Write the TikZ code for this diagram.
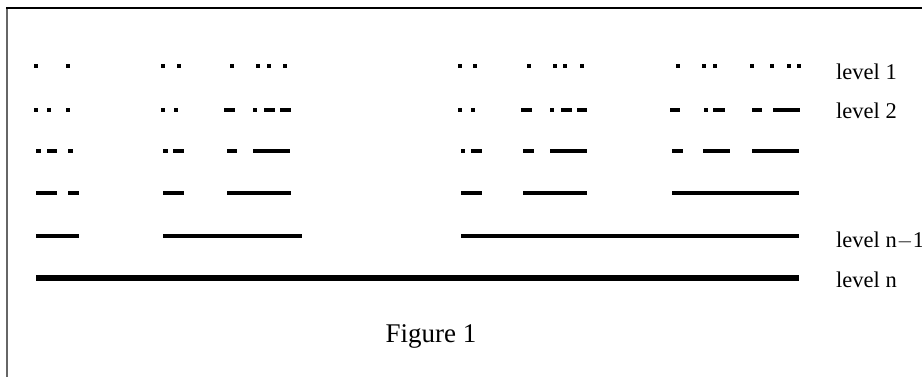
\documentclass[tikz,border=0pt]{standalone}
\usepackage{fontspec}
\setmainfont{Liberation Serif}
\tikzset{
  seg/.style={line width=4.4pt, line cap=butt},
  segthick/.style={line width=5.2pt, line cap=butt},
  lbl/.style={anchor=base west, inner sep=0pt, font=\fontsize{22.5}{27}\selectfont},
  frameline/.style={line width=1.4pt}
}
\begin{document}
\begin{tikzpicture}[x=1pt,y=-1pt]
\useasboundingbox (0,0) rectangle (922,376);
% frame (only top and left visible)
\draw[frameline, black!60] (7,380) -- (7,8);
\draw[frameline, black] (6.3,8) -- (925,8);
% row 1
\foreach \a/\b in {34/38,66/70,161/165,177/181,230/234,256/260,267/271,283/287,458/462,473/477,527/531,553/557,563/567,580/584,676/680,702/706,713/717,750/754,770/774,787/791,797/801}
  \draw[seg] (\a,66) -- (\b,66);
% row 2
\foreach \a/\b in {34/38,47/51,66/70,161/165,174/178,224/235,253/257,264/275,280/291,458/462,471/475,521/532,550/554,561/572,577/587,670/680,704/708,713/725,752/762,773/800}
  \draw[seg] (\a,110) -- (\b,110);
% row 3
\foreach \a/\b in {36/41,47/57,68/73,163/168,173/184,227/237,253/290,461/465,471/482,523/534,550/587,672/683,703/730,752/799}
  \draw[seg] (\a,151) -- (\b,151);
% row 4
\foreach \a/\b in {36/57,68/79,163/184,227/291,461/482,523/587,672/799}
  \draw[seg] (\a,193) -- (\b,193);
% row 5
\foreach \a/\b in {36/79,163/264,461/799}
  \draw[seg] (\a,236) -- (\b,236);
\draw[seg, line width=4.8pt] (264,236) -- (302,236);
% row 6
\draw[segthick] (36,278) -- (799,278);
% labels
\node[lbl] (l1) at (836,79) {level 1};
\node[lbl] (l2) at (836,118) {level 2};
\node[lbl] (ln1) at (836,247) {level n$-$1};
\node[lbl] (ln) at (836,287) {level n};
\node[anchor=base, inner sep=0pt, font=\fontsize{27}{32}\selectfont] (fig) at (431,342) {Figure 1};
\end{tikzpicture}
\end{document}
